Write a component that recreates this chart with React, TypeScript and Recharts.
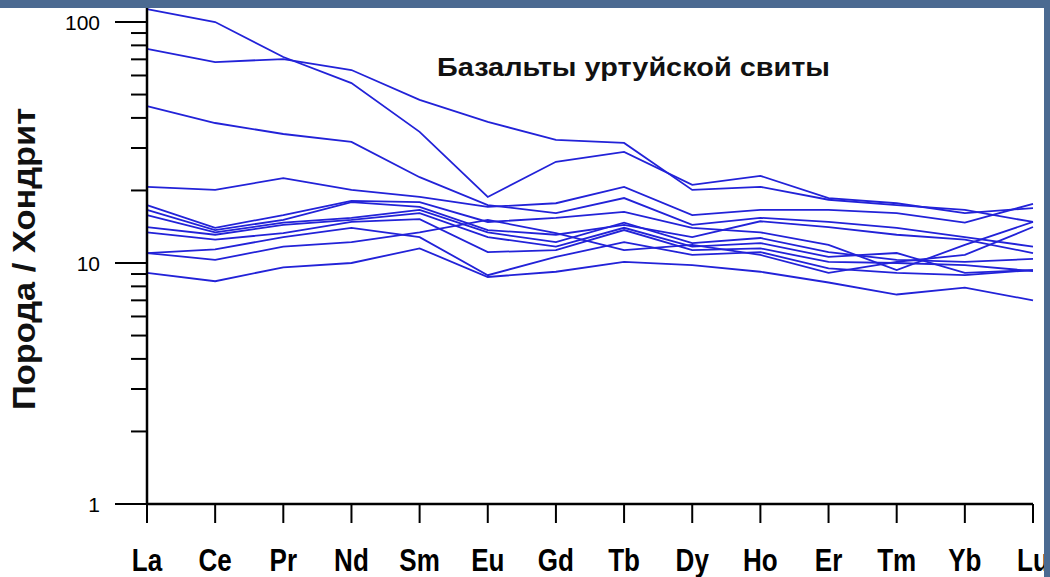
import { LineChart, Line, XAxis, YAxis } from 'recharts';

const elements = ['La', 'Ce', 'Pr', 'Nd', 'Sm', 'Eu', 'Gd', 'Tb', 'Dy', 'Ho', 'Er', 'Tm', 'Yb', 'Lu'];

// rock / chondrite, one array per sample
const s1 = [113, 100, 71.6, 55.8, 35.0, 18.8, 26.3, 28.9, 21.1, 23.0, 18.6, 17.7, 16.1, 16.9];
const s2 = [77.3, 68.2, 70.2, 63.2, 47.5, 38.5, 32.4, 31.5, 20.1, 20.7, 18.3, 17.4, 16.6, 14.8];
const s3 = [44.8, 38.1, 34.3, 31.8, 22.7, 17.4, 16.1, 18.6, 14.4, 15.4, 14.8, 14.0, 12.8, 11.7];
const s4 = [20.7, 20.1, 22.5, 20.1, 18.8, 17.1, 17.7, 20.7, 15.8, 16.6, 16.6, 16.1, 14.7, 17.6];
const s5 = [17.4, 14.0, 15.8, 18.1, 17.9, 14.8, 15.4, 16.3, 14.0, 13.4, 11.9, 9.35, 11.9, 14.8];
const s6 = [16.6, 13.7, 15.1, 17.9, 17.1, 13.7, 13.1, 14.4, 12.8, 14.9, 14.1, 13.1, 12.5, 11.0];
const s7 = [15.8, 13.4, 14.7, 15.4, 16.6, 13.4, 12.2, 14.7, 12.1, 12.7, 11.1, 10.3, 10.1, 10.4];
const s8 = [14.1, 13.1, 14.4, 15.1, 16.1, 12.8, 11.7, 14.0, 11.7, 12.1, 10.6, 11.0, 9.1, 9.35];
const s9 = [13.4, 12.5, 13.3, 14.8, 15.2, 11.1, 11.3, 13.7, 11.3, 11.5, 10.1, 10.0, 9.8, 9.26];
const s10 = [11.0, 11.4, 12.8, 14.0, 12.8, 8.9, 10.6, 12.2, 10.8, 11.1, 9.5, 9.1, 8.9, 9.35];
const s11 = [11.0, 10.3, 11.7, 12.2, 13.4, 15.1, 13.3, 11.3, 11.9, 10.8, 9.1, 10.1, 10.8, 14.1];
const s12 = [9.1, 8.4, 9.6, 10.0, 11.5, 8.75, 9.2, 10.1, 9.8, 9.2, 8.3, 7.4, 7.9, 7.0];

const series = [s1, s2, s3, s4, s5, s6, s7, s8, s9, s10, s11, s12];

const yTicks = [1, 2, 3, 4, 5, 6, 7, 8, 9, 10, 20, 30, 40, 50, 60, 70, 80, 90, 100];
const majorTicks = [1, 10, 100];

const data = elements.map((el, i) => {
  const row: Record<string, string | number> = { el };
  series.forEach((s, k) => {
    row[`s${k + 1}`] = s[i];
  });
  return row;
});

const FONT = '"Liberation Sans", Arial, sans-serif';
const LINE_COLOR = '#2222d8';
const FRAME_COLOR = '#4b6a91';

const YTick = (props: any) => {
  const { x, y, payload } = props;
  const major = majorTicks.includes(payload.value);
  return (
    <g>
      <line x1={x - (major ? 32 : 16)} x2={x} y1={y} y2={y} stroke="#000" strokeWidth={2} />
      {major && (
        <text x={x - 47} y={y + 7.5} textAnchor="end" fontSize={21} fill="#000" fontFamily={FONT}>
          {payload.value}
        </text>
      )}
    </g>
  );
};

const XTick = (props: any) => {
  const { x, y, payload } = props;
  return (
    <text
      transform={`translate(${x} ${y + 48}) scale(0.84 1)`}
      textAnchor="middle"
      fontSize={31}
      fontWeight="bold"
      fill="#000"
      fontFamily={FONT}
    >
      {payload.value}
    </text>
  );
};

export default function App() {
  return (
    <div style={{ position: 'absolute', left: 0, top: 0, width: 1050, height: 577, background: '#fff' }}>
      <LineChart width={1050} height={577} data={data} margin={{ top: 0, right: 17, bottom: 0, left: 0 }}>
        <XAxis
          dataKey="el"
          height={73}
          padding={{ left: 0, right: 0 }}
          axisLine={{ stroke: '#000', strokeWidth: 2.5 }}
          tickLine={{ stroke: '#000', strokeWidth: 2 }}
          tickSize={19}
          tickMargin={0}
          interval={0}
          tick={<XTick />}
        />
        <YAxis
          type="number"
          scale="log"
          domain={[1, 123.4]}
          allowDataOverflow
          ticks={yTicks}
          interval={0}
          width={147}
          axisLine={{ stroke: '#000', strokeWidth: 2.5 }}
          tickLine={false}
          tickSize={0}
          tickMargin={0}
          tick={<YTick />}
        />
        {series.map((_, k) => (
          <Line
            key={k}
            type="linear"
            dataKey={`s${k + 1}`}
            stroke={LINE_COLOR}
            strokeWidth={1.8}
            dot={false}
            activeDot={false}
            isAnimationActive={false}
          />
        ))}
      </LineChart>
      <svg
        width={1050}
        height={577}
        style={{ position: 'absolute', left: 0, top: 0, pointerEvents: 'none' }}
      >
        <rect x={0} y={0} width={1050} height={8} fill={FRAME_COLOR} />
        <rect x={1044} y={0} width={6} height={577} fill={FRAME_COLOR} />
        <text
          x={437}
          y={76}
          fontSize={25}
          fontWeight="bold"
          fill="#111"
          fontFamily={FONT}
          textLength={393}
          lengthAdjust="spacingAndGlyphs"
        >
          Базальты уртуйской свиты
        </text>
        <text
          x={35}
          y={259}
          transform="rotate(-90 35 259)"
          textAnchor="middle"
          fontSize={31}
          fontWeight="bold"
          fill="#111"
          fontFamily={FONT}
          textLength={302}
          lengthAdjust="spacingAndGlyphs"
        >
          Порода / Хондрит
        </text>
      </svg>
    </div>
  );
}
